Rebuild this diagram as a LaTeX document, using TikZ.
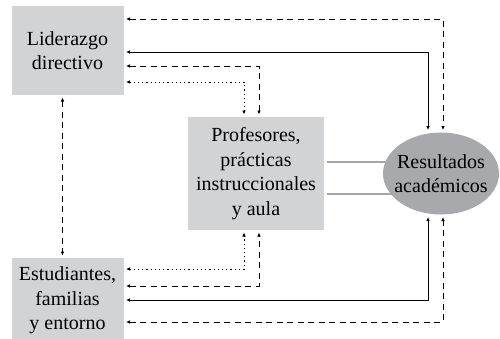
\documentclass[tikz,border=0pt]{standalone}
\usepackage{fontspec}
\setmainfont{Liberation Serif}
\usetikzlibrary{positioning}
\usetikzlibrary{arrows.meta}
\usetikzlibrary{backgrounds}
\usetikzlibrary{shapes.geometric}

\definecolor{boxgray}{RGB}{210,211,213}
\definecolor{ovalgray}{RGB}{168,169,172}
\definecolor{linkgray}{RGB}{165,166,168}

\begin{document}
\begin{tikzpicture}
				[x=1pt,y=-1pt,
					every node/.style={fill=boxgray,align=center,outer sep=2.5pt,
						font=\fontsize{20}{24.5}\selectfont},
					box/.style={rectangle,minimum width=112pt},
					oval/.style={ellipse,fill=ovalgray,minimum width=116pt,minimum height=82pt,
						inner xsep=-6pt,inner ysep=0pt},
					tip/.style={{Latex[length=4pt,width=3.6pt]}-{Latex[length=4pt,width=3.6pt]}},
					solidlink/.style={tip,line width=0.9pt},
					dashlink/.style={tip,line width=0.9pt,dash pattern=on 6pt off 4.5pt},
					dotlink/.style={tip,line width=1pt,dash pattern=on 1.2pt off 3pt},
					grayline/.style={linkgray,line width=1.8pt},
				node distance=158pt]
				\useasboundingbox (0,0) rectangle (500,338);
				\node[box,minimum height=89pt] (lider) at (67.5,50.5) {Liderazgo\\directivo};
				\node[box,minimum height=85pt] (estud) [below=of lider] {Estudiantes,\\familias\\y entorno};
				\node[box,minimum width=136pt,minimum height=113pt] (prof) at (256,173.5)
					{Profesores,\\prácticas\\instruccionales\\y aula};
				\node[oval] (result) [right=54pt of prof] {Resultados\\académicos};
				% lineas grises hacia el ovalo
				\begin{scope}[on background layer]
					\draw[grayline] ([yshift=11.5pt]prof.east) -- ([yshift=11.5pt]prof.east -| result.center);
					\draw[grayline] ([yshift=-20.5pt]prof.east) -- ([yshift=-20.5pt]prof.east -| result.center);
				\end{scope}
				% desde arriba
				\draw[dashlink] ([yshift=31.5pt]lider.east) -| ([xshift=2pt]result.north);
				\draw[solidlink] ([yshift=-1.5pt]lider.east) -| ([xshift=-13pt]result.north);
				\draw[dashlink] ([yshift=-15.5pt]lider.east) -| ([xshift=3pt]prof.north);
				\draw[dotlink] ([yshift=-31.5pt]lider.east) -| ([xshift=-12pt]prof.north);
				% desde abajo
				\draw[dotlink] ([yshift=31.5pt]estud.east) -| ([xshift=-12pt]prof.south);
				\draw[dashlink] ([yshift=14.5pt]estud.east) -| ([xshift=3pt]prof.south);
				\draw[solidlink] ([yshift=0.5pt]estud.east) -| ([xshift=-13pt]result.south);
				\draw[dashlink] ([yshift=-21.5pt]estud.east) -| ([xshift=2pt]result.south);
				\draw[dashlink] ([xshift=-5pt]lider.south) -- ([xshift=-5pt]estud.north);
			\end{tikzpicture}
\end{document}
